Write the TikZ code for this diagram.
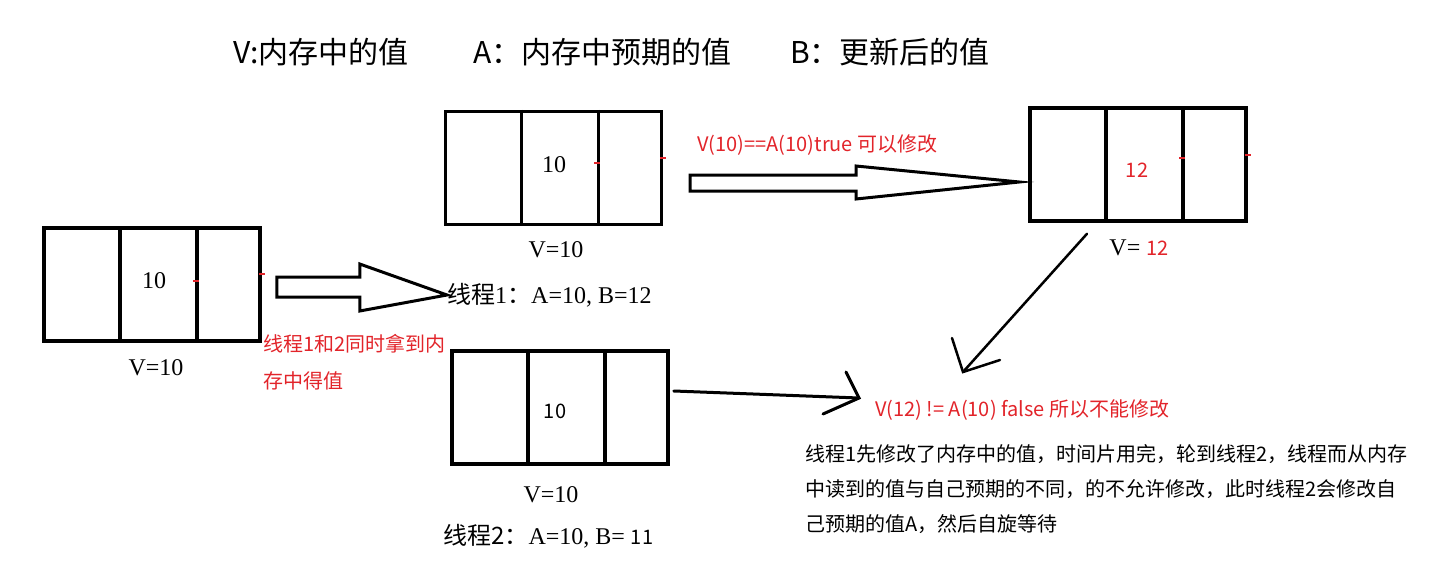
\documentclass[tikz,border=0pt]{standalone}
\usepackage{fontspec}
\setmainfont{Liberation Serif}
\newfontfamily\cjk{Noto Sans CJK SC}
\usetikzlibrary{calc}
\definecolor{redtxt}{RGB}{226,36,42}
\tikzset{
  membox/.style={draw=black, line width=3.5pt, minimum width=216pt, minimum height=113pt, inner sep=0pt},
  divider/.style={draw=black, line width=3.5pt},
  hollow/.style={draw=black, line width=3pt, fill=white, line join=miter},
  thin/.style={draw=black, line width=3pt, line cap=round},
  redtick/.style={draw=redtxt, line width=1.5pt},
  serifval/.style={font=\fontsize{24}{28}\selectfont, inner sep=0pt},
  sansval/.style={font=\cjk\fontsize{20}{24}\selectfont, inner sep=0pt},
  redsans/.style={font=\cjk\fontsize{20}{24}\selectfont, text=redtxt, inner sep=0pt},
  blacksans/.style={font=\cjk\fontsize{20}{35}\selectfont, text=black, inner sep=0pt, align=left},
  header/.style={font=\cjk\fontsize{30}{36}\selectfont, inner sep=0pt},
}
\newcommand{\celldividers}[1]{%
  \draw[divider] ($(#1.north west)!0.355!(#1.north east)$) -- ($(#1.south west)!0.355!(#1.south east)$);
  \draw[divider] ($(#1.north west)!0.705!(#1.north east)$) -- ($(#1.south west)!0.705!(#1.south east)$);
}
\begin{document}
\begin{tikzpicture}[x=1pt,y=-1pt]
\useasboundingbox (0,0) rectangle (1452,578);

% header
\node[header, anchor=west] (h1) at (233,52) {V:内存中的值};
\node[header, anchor=west] (h2) at (473,52) {A：内存中预期的值};
\node[header, anchor=west] (h3) at (790,52) {B：更新后的值};

% boxes
\node[membox] (b0) at (152,284.5) {};
\celldividers{b0}
\node[membox] (b1) at (553.5,168) {};
\celldividers{b1}
\node[membox] (b2) at (560,407.5) {};
\celldividers{b2}
\node[membox] (b3) at (1138,164.5) {};
\celldividers{b3}

% red ticks
\draw[redtick] (193,281) -- (199,281);
\draw[redtick] (259,274) -- (265,274);
\draw[redtick] (594,163) -- (600,163);
\draw[redtick] (660,158) -- (666,158);
\draw[redtick] (1179,158) -- (1185,158);
\draw[redtick] (1245,155) -- (1251,155);

% values
\node[serifval] (v0) at (154,281) {10};
\node[serifval] (l0) at (156,368) {V=10};
\node[serifval] (v1) at (554,165) {10};
\node[serifval] (l1) at (556,250) {V=10};
\node[serifval, anchor=west] (t1) at (447,295) {{\cjk 线程}1{\cjk ：}A=10, B=12};
\node[sansval] (v2) at (555,411) {10};
\node[serifval] (l2) at (551,495) {V=10};
\node[serifval, anchor=west] (t2) at (443,536) {{\cjk 线程2：}A=10, B= {\cjk\fontsize{20}{24}\selectfont 11}};
\node[redsans] (v3) at (1137,170) {12};
\node[serifval] (l3) at (1139,248) {V= {\cjk\fontsize{20}{24}\selectfont\color{redtxt}12}};

% red notes
\node[redsans, anchor=west, align=left, font=\cjk\fontsize{20}{37}\selectfont] (n0) at (263,362) {线程1和2同时拿到内\\存中得值};
\node[redsans, anchor=west] (n1) at (697,145) {V(10)==A(10)true 可以修改};
\node[redsans, anchor=west] (n2) at (875,410) {V(12) != A(10) false 所以不能修改};
\node[blacksans, anchor=west] (n3) at (805,489) {线程1先修改了内存中的值，时间片用完，轮到线程2，线程而从内存\\中读到的值与自己预期的不同，的不允许修改，此时线程2会修改自\\己预期的值A，然后自旋等待};

% hollow arrow b0 -> t1
\coordinate (a1) at ($(b0.east)+(15,2.5)$);
\draw[hollow] (a1) ++(0,-10) -- ++(83,0) -- ++(0,-13) -- (t1.west) -- ($(a1)+(83,24)$) -- ++(0,-14) -- ($(a1)+(0,10)$) -- cycle;

% hollow arrow b1 -> b3
\coordinate (a2) at (690,183);
\coordinate (a2tip) at ($(b3.west)+(-9,17.5)$);
\draw[hollow] (a2) ++(0,-8) -- ++(166,0) -- ++(0,-9) -- (a2tip) -- ($(a2)+(166,16)$) -- ++(0,-8) -- ($(a2)+(0,8)$) -- cycle;

% thin arrow b2 -> n2
\coordinate (a3s) at ($(b2.east)+(4,-16.5)$);
\coordinate (a3t) at ($(n2.west)+(-16,-12)$);
\draw[thin] (a3s) -- (a3t);
\draw[thin] ($(a3t)+(-13,-26)$) -- (a3t) -- ($(a3t)+(-36,16)$);

% diagonal arrow b3 -> n2
\coordinate (a4s) at ($(b3.south)+(-51,11)$);
\coordinate (a4t) at (963,372);
\draw[thin, line width=2.5pt] (a4s) -- (a4t);
\draw[thin, line width=2.5pt] ($(a4t)+(-11,-34)$) -- (a4t) -- ($(a4t)+(37,-12)$);
\end{tikzpicture}
\end{document}
